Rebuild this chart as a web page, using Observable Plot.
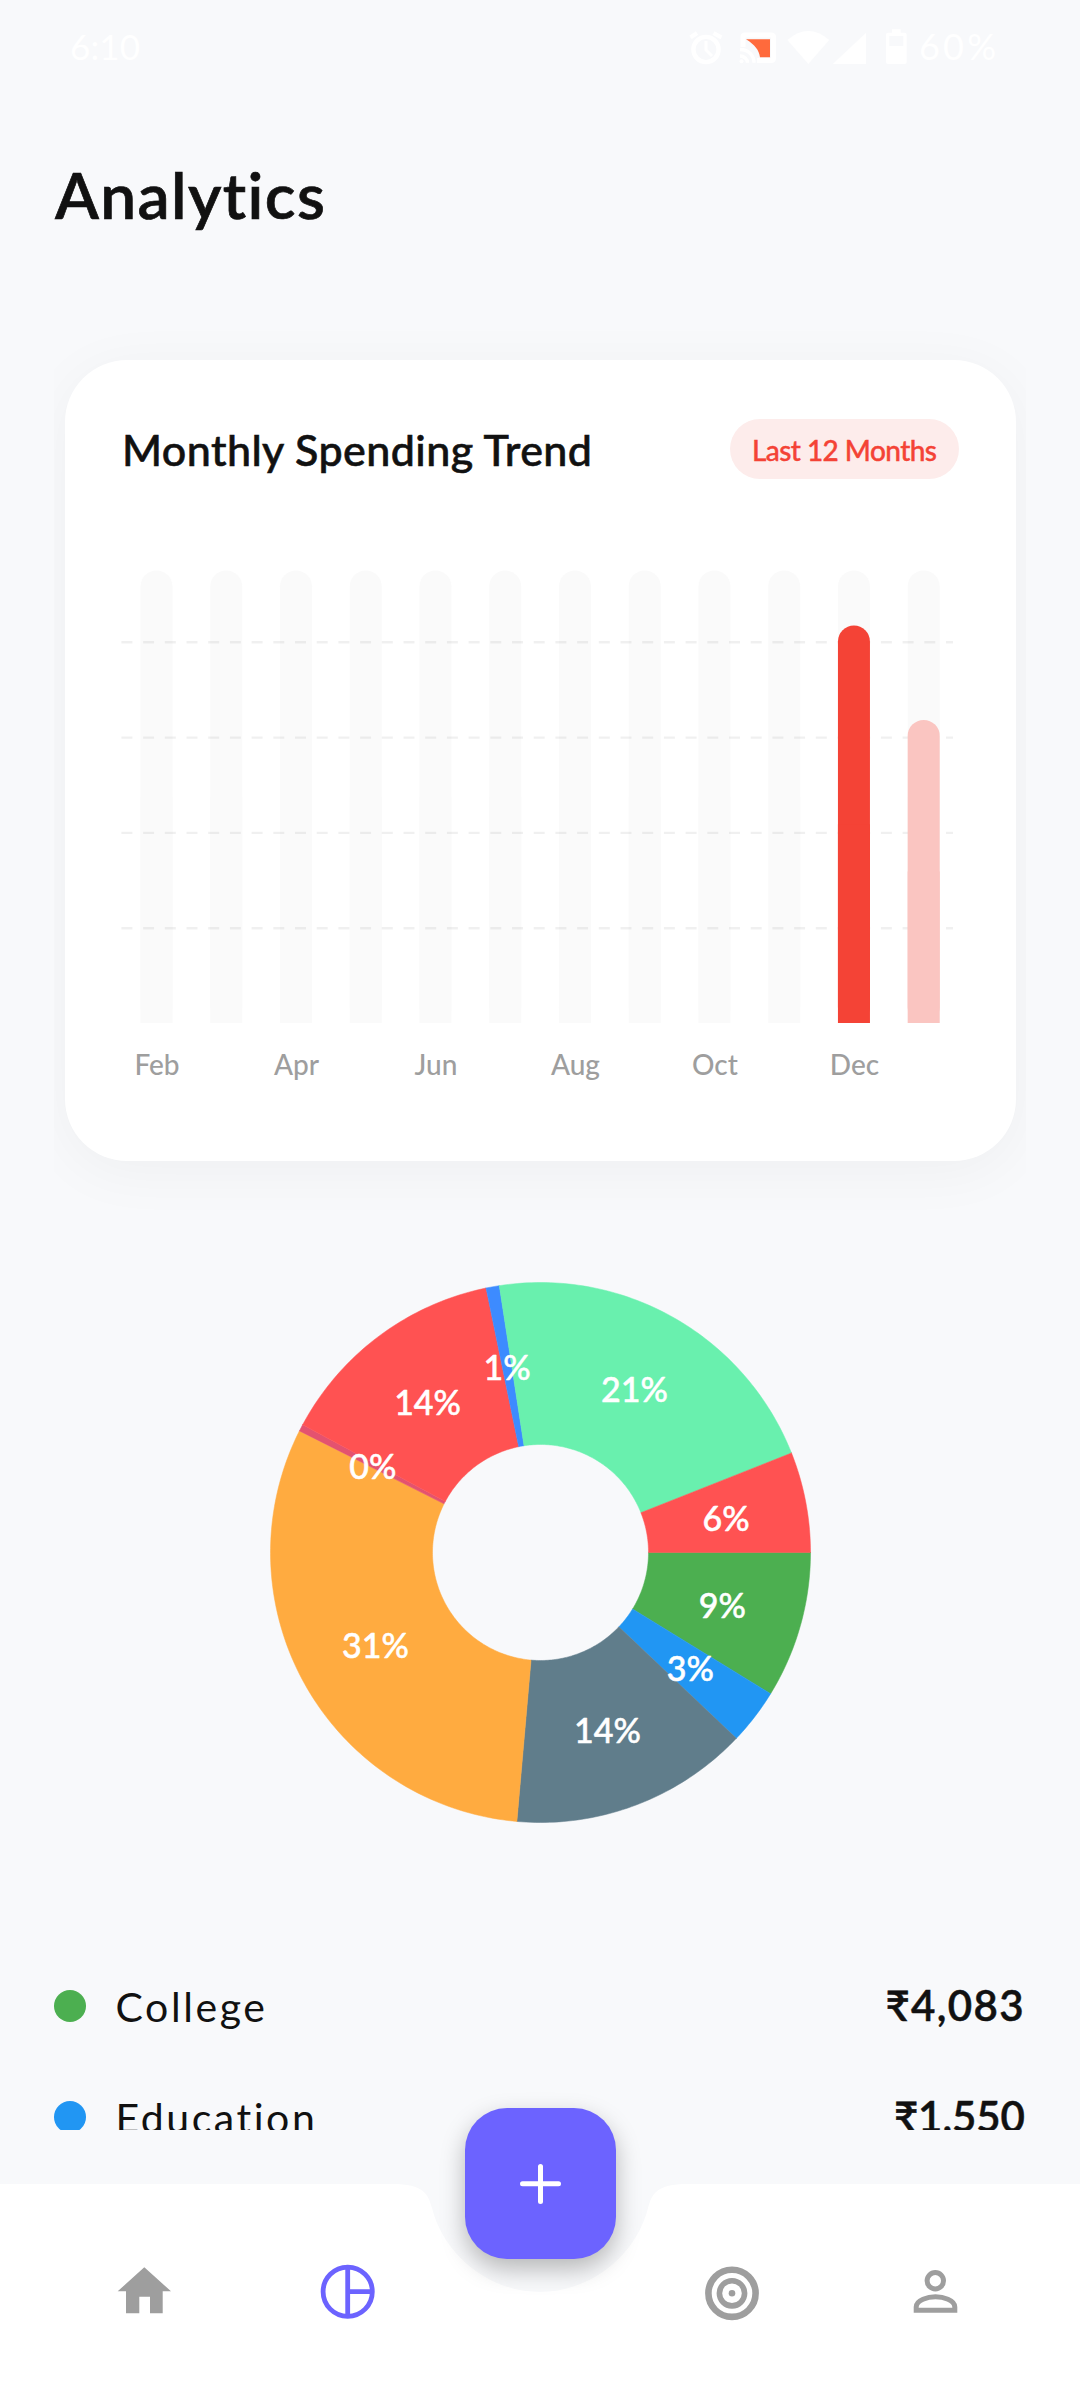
<!DOCTYPE html>
<html>
<head>
<meta charset="utf-8">
<script src="https://cdn.jsdelivr.net/npm/d3@7"></script>
<script src="https://cdn.jsdelivr.net/npm/@observablehq/plot@0.6"></script>
<style>
html,body{margin:0;padding:0;background:#F8F9FB;}
#page{position:relative;width:1080px;height:2400px;overflow:hidden;background:#F8F9FB;font-family:Lato,"Noto Sans",sans-serif;}
.t{position:absolute;line-height:0;white-space:nowrap;}
.abs{position:absolute;}
svg.plot{display:block;background:none;overflow:visible;}
</style>
</head>
<body>
<div id="page">
  <div class="abs" id="shadowClip" style="left:54px;top:319px;width:972px;height:941px;overflow:hidden;">
    <div class="abs" style="left:11px;top:41px;width:951px;height:800.5px;border-radius:62px;background:#fff;box-shadow:0 10px 60px rgba(0,0,0,.045);"></div>
  </div>
  <div class="abs" id="bars" style="left:65px;top:540px;"></div>
  <div class="abs" id="donut" style="left:240px;top:1252.4px;"></div>
  <div class="abs" id="legend" style="left:0;top:0;width:1080px;height:2130px;overflow:hidden;"></div>
  <svg class="abs" id="nav" style="left:0;top:0;" width="1080" height="2400" viewBox="0 0 1080 2400">
    <path fill="#fff" d="M0 2184H392C424 2184 428 2194 432 2208C444 2256 490 2292 540 2292C590 2292 636 2256 648 2208C652 2194 656 2184 688 2184H1080V2400H0Z"/>
    <!-- home -->
    <path fill="#9E9E9E" d="M144.3 2267.3L171 2291.3H162.7V2313.3H150V2296.7H139.3V2313.3H126V2291.3H117.7Z"/>
    <!-- analytics -->
    <g fill="none" stroke="#6C63FF" stroke-width="4.8">
      <circle cx="347.7" cy="2291.7" r="24.6"/>
      <path d="M347.7 2267V2316.3M347.7 2291.7H372.3"/>
    </g>
    <!-- goals -->
    <g fill="none" stroke="#9E9E9E">
      <circle cx="732" cy="2293.3" r="23.6" stroke-width="6.6"/>
      <circle cx="732" cy="2293.3" r="12.6" stroke-width="5.6"/>
      <circle cx="732" cy="2293.3" r="3.3" fill="#9E9E9E" stroke="none"/>
    </g>
    <!-- profile -->
    <g fill="none" stroke="#9E9E9E" stroke-width="5">
      <circle cx="935.3" cy="2280.7" r="8.2"/>
      <path d="M916.2 2310.2V2307C916.2 2300 928 2296.8 935.5 2296.8C943 2296.8 954.8 2300 954.8 2307V2310.2Z"/>
    </g>
    <!-- status icons -->
    <g fill="none" stroke="#fff">
      <circle cx="706" cy="49.5" r="12.6" stroke-width="4.4"/>
      <path d="M706 41V50L712 56" stroke-width="3"/>
      <path d="M690.5 37.5L697 33M713.5 33L721.5 37.5" stroke-width="4.2"/>
      <path d="M743 47V37Q743 35 745 35H771Q773.5 35 773.5 37V58Q773.5 60.5 771 60.5H757" stroke-width="5"/>
    </g>
    <path fill="#FF6A3C" d="M746 39.3H770V57.3H760C759 50 755 45 746 39.3Z"/>
    <g fill="none" stroke="#fff" stroke-width="3.4">
      <path d="M740 49.5C748 49.5 754 55 754 62.7"/>
      <path d="M740 56C744 56 747.5 59 747.5 62.7"/>
    </g>
    <circle cx="741.5" cy="61.3" r="2" fill="#fff"/>
    <g fill="#fff">
      <path d="M808.3 64L787.3 40Q808.3 22 829.3 40Z"/>
      <path d="M866 32.7V64H832.7Z"/>
      <path d="M892 29.3H900.7V32.7H904.7Q906.7 32.7 906.7 34.7V62Q906.7 64 904.7 64H888Q886 64 886 62V34.7Q886 32.7 888 32.7H892Z"/>
    </g>
    <rect x="889.3" y="36" width="14" height="10" fill="#F8F9FB"/>
  </svg>
  <div class="abs" id="fab" style="left:464.5px;top:2108px;width:151px;height:151px;border-radius:42px;background:#6C63FF;box-shadow:0 10px 24px rgba(0,0,0,.27);"></div>
  <svg class="abs" style="left:0;top:0;pointer-events:none;" width="1080" height="2400" viewBox="0 0 1080 2400">
    <path stroke="#fff" stroke-width="5" fill="none" stroke-linecap="round" d="M522.5 2183.8H558.5M540.5 2166.5V2201.5"/>
  </svg>
</div>
<script>
// ---- monthly trend data (rupees, estimated) ----
const months = ["Feb","Mar","Apr","May","Jun","Jul","Aug","Sep","Oct","Nov","Dec","Jan"];
const monthSpend = [0,0,0,0,0,0,0,0,0,0,41700,31800];
const monthLabels = ["Feb","Apr","Jun","Aug","Oct","Dec"];
const gridValues = [10000,20000,30000,40000];
const trackMax = 47470;

// ---- category breakdown (rupees, estimated) ----
const categories = ["College","Education","Category 3","Category 4","Category 5","Category 6","Category 7","Category 8","Category 9"];
const categoryAmounts = [4083,1550,6670,14470,190,6490,370,9990,2800];
const categoryLabels = ["9%","3%","14%","31%","0%","14%","1%","21%","6%"];
const categoryColors = ["#4CAF50","#2196F3","#607D8B","#FFAB40","#E4526F","#FF5252","#3D8BFF","#69F0AE","#FF5252"];

const legendNames = ["College","Education"];
const legendAmounts = ["₹4,083","₹1,550"];
const legendColors = ["#4CAF50","#2196F3"];
const legendNameWidths = [149.5, 200];
const legendAmountWidths = [138, 131];

const page = document.getElementById("page");
const FONT = 'Lato,"Noto Sans",sans-serif';

function put(parent, text, x, baseline, size, color, opts = {}) {
  const el = document.createElement("div");
  el.className = "t";
  el.textContent = text;
  el.style.fontSize = size + "px";
  el.style.color = color;
  el.style.fontWeight = opts.weight || 400;
  if (opts.stroke) el.style.webkitTextStroke = opts.stroke + "px " + color;
  el.style.top = (baseline - 0.387 * size) + "px";
  parent.appendChild(el);
  if (opts.width) {
    const w = el.getBoundingClientRect().width;
    el.style.letterSpacing = ((opts.width - w) / (text.length - 1)) + "px";
  }
  if (opts.right) el.style.right = (1080 - x) + "px"; else el.style.left = x + "px";
  return el;
}

// ---- page text ----
put(page, "6:10", 70, 60, 35, "#fff", {width: 70});
put(page, "60%", 919, 60, 36, "#fff", {width: 77});
put(page, "Analytics", 55, 220, 64, "#111", {weight: 600, stroke: 0.7, width: 271});
put(page, "Monthly Spending Trend", 122, 466.5, 43, "#111", {weight: 500, stroke: 0.6, width: 470});
const pill = document.createElement("div");
pill.className = "abs";
pill.style.cssText = "left:730px;top:419px;width:229px;height:60px;border-radius:30px;background:#FDECEB;";
page.appendChild(pill);
put(page, "Last 12 Months", 752, 461, 28, "#F44336", {weight: 500, stroke: 0.4, width: 185});

// ---- bar chart ----
const monthRows = months.map((month, i) => ({month, spend: monthSpend[i]}));
const spent = monthRows.filter(d => d.spend > 0);
const barFill = d => d.month === "Dec" ? "#F44336" : "#FAC5C1";
const barsPlot = Plot.plot({
  width: 951, height: 560,
  marginLeft: 56.4, marginRight: 63, marginTop: 30.6, marginBottom: 77,
  x: {type: "band", domain: months, range: [75.5, 874.7], paddingInner: 0.541, paddingOuter: 0, round: false, label: null},
  y: {domain: [0, trackMax], range: [483, 30.6], label: null, axis: null},
  style: {background: "none", fontFamily: FONT},
  marks: [
    Plot.barY(months, {x: d => d, y: () => trackMax, fill: "#FAFAFA", rx: 16, ry: 16}),
    Plot.barY(months, {x: d => d, y: () => trackMax / 2, fill: "#FAFAFA"}),
    Plot.ruleY(gridValues, {stroke: "#000", strokeOpacity: 0.06, strokeWidth: 2.4, strokeDasharray: "11,10.7"}),
    Plot.barY(spent, {x: "month", y: "spend", fill: barFill, rx: 16, ry: 16}),
    Plot.barY(spent, {x: "month", y: d => d.spend / 2, fill: barFill}),
    Plot.axisX(monthLabels, {anchor: "bottom", tickSize: 0, tickPadding: 32, fontSize: 28, fontWeight: 500, fill: "#9E9E9E", label: null})
  ]
});
document.getElementById("bars").appendChild(barsPlot);

// ---- donut chart: slices are polygons in data space, clockwise from 3 o'clock ----
const OUTER = 1, INNER = 0.4, LABEL_R = 0.7;
const total = d3.sum(categoryAmounts);
let run = 0;
const spans = categories.map((category, i) => {
  const a0 = run / total * 2 * Math.PI;
  run += categoryAmounts[i];
  return {category, label: categoryLabels[i], a0, a1: run / total * 2 * Math.PI};
});
const slicePoints = spans.flatMap(s => {
  const n = Math.max(2, Math.ceil((s.a1 - s.a0) / (Math.PI / 180)));
  const angles = d3.range(n + 1).map(k => s.a0 + (s.a1 - s.a0) * k / n);
  const outer = angles.map(a => ({category: s.category, x: OUTER * Math.cos(a), y: OUTER * Math.sin(a)}));
  const inner = angles.slice().reverse().map(a => ({category: s.category, x: INNER * Math.cos(a), y: INNER * Math.sin(a)}));
  return [...outer, ...inner, outer[0]];
});
const labelPoints = spans.map(s => {
  const a = (s.a0 + s.a1) / 2;
  return {label: s.label, x: LABEL_R * Math.cos(a), y: LABEL_R * Math.sin(a)};
});
const extent = 300 / 270;
const donutPlot = Plot.plot({
  width: 600, height: 600,
  margin: 0,
  x: {domain: [-extent, extent], range: [0, 600], axis: null},
  y: {domain: [-extent, extent], range: [0, 600], axis: null},
  color: {type: "ordinal", domain: categories, range: categoryColors},
  style: {background: "none", fontFamily: FONT},
  marks: [
    Plot.line(slicePoints, {x: "x", y: "y", z: "category", fill: "category", stroke: "category", strokeWidth: 0.5}),
    Plot.text(labelPoints, {x: "x", y: "y", dy: 3, text: "label", fill: "#fff", stroke: "#fff", strokeWidth: 0.5, fontSize: 34, fontWeight: 500})
  ]
});
document.getElementById("donut").appendChild(donutPlot);

// ---- legend rows (cut off by the scroll edge) ----
const legend = document.getElementById("legend");
legendNames.forEach((name, i) => {
  const base = 2023 + i * 111;
  const dot = document.createElement("div");
  dot.className = "abs";
  dot.style.cssText = `left:54px;top:${1990 + i * 111}px;width:32px;height:32px;border-radius:50%;background:${legendColors[i]};`;
  legend.appendChild(dot);
  put(legend, name, 115.5, base, 41, "#111", {width: legendNameWidths[i]});
  put(legend, legendAmounts[i], 1024.8, base - 2, 42, "#111", {weight: 600, stroke: 0.5, width: legendAmountWidths[i], right: true});
});
</script>
</body>
</html>
